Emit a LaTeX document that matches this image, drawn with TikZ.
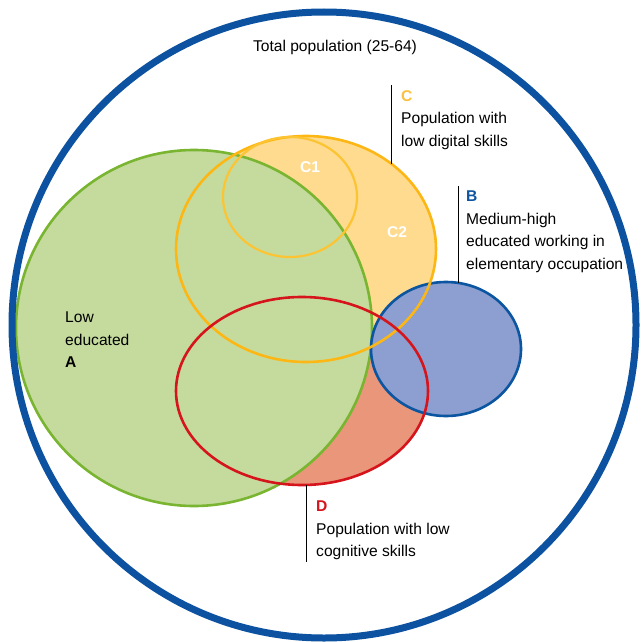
\documentclass[tikz,border=0pt]{standalone}
\usepackage{fontspec}
\setmainfont{Liberation Sans}
\usetikzlibrary{shapes.geometric}
\definecolor{popblue}{RGB}{12,82,160}
\definecolor{agreen}{RGB}{122,181,50}
\definecolor{afill}{RGB}{197,219,158}
\definecolor{cyellow}{RGB}{253,183,20}
\definecolor{cone}{RGB}{252,196,50}
\definecolor{cfill}{RGB}{254,219,143}
\definecolor{clabel}{RGB}{252,192,64}
\definecolor{dred}{RGB}{214,20,28}
\definecolor{dfill}{RGB}{234,150,122}
\definecolor{bblue}{RGB}{12,85,160}
\definecolor{bfill}{RGB}{140,159,208}
\tikzset{
  set/.style={ellipse, inner sep=0pt, outer sep=0pt, line width=2.6pt},
  txt/.style={anchor=north west, inner sep=0pt, align=left, font=\fontsize{15.6}{22.5}\selectfont},
  tag/.style={text=white, font=\fontsize{15.6}{18}\selectfont\bfseries},
  pin/.style={line width=0.8pt}
}
\begin{document}
\begin{tikzpicture}[x=1pt, y=-1pt]
\useasboundingbox (0,0) rectangle (641,642);
% fills first, outlines on top
\fill [dfill] (302,391) ellipse [x radius=126, y radius=94];
\fill [cfill] (306,249) ellipse [x radius=130, y radius=113];
\fill [afill] (194,328) circle [radius=178];
\fill [bfill] (446,349) ellipse [x radius=75, y radius=67];
\node [set, draw=agreen, minimum width=356, minimum height=356] (A) at (194,328) {};
\node [set, draw=bblue, minimum width=150, minimum height=134] (B) at (446,349) {};
\node [set, draw=cyellow, minimum width=260, minimum height=226] (C) at (306,249) {};
\node [set, draw=cone, line width=2.2pt, minimum width=134, minimum height=120] (C1) at (290,197) {};
\node [set, draw=dred, minimum width=252, minimum height=188] (D) at (302,391) {};
\node [set, draw=popblue, line width=7pt, minimum width=624, minimum height=626] (T) at (324,325) {};
% labels
\node [txt, anchor=base] (lT) at (335,52) {Total population (25-64)};
\node [txt] (lA) at (65,312) {Low\\educated\\{\bfseries A}};
\node [txt] (lC) at (401,90) {{\color{clabel}\bfseries C}\\Population with\\low digital skills};
\node [txt] (lB) at (466,191) {{\color{bblue}\bfseries B}\\Medium-high\\educated working in\\elementary occupation};
\node [txt] (lD) at (316,501) {{\color{dred}\bfseries D}\\Population with low\\cognitive skills};
\node [tag] (c1) at (310,167) {C1};
\node [tag] (c2) at (397,232) {C2};
% pointers
\coordinate (pC) at (391,85);
\coordinate (pB) at (458,186);
\coordinate (pD) at (306,562);
\draw [pin] (pC) -- (pC |- C.45);
\draw [pin] (pB) -- (pB |- B.80);
\draw [pin] (pD) -- (pD |- D.-88);
\end{tikzpicture}
\end{document}
